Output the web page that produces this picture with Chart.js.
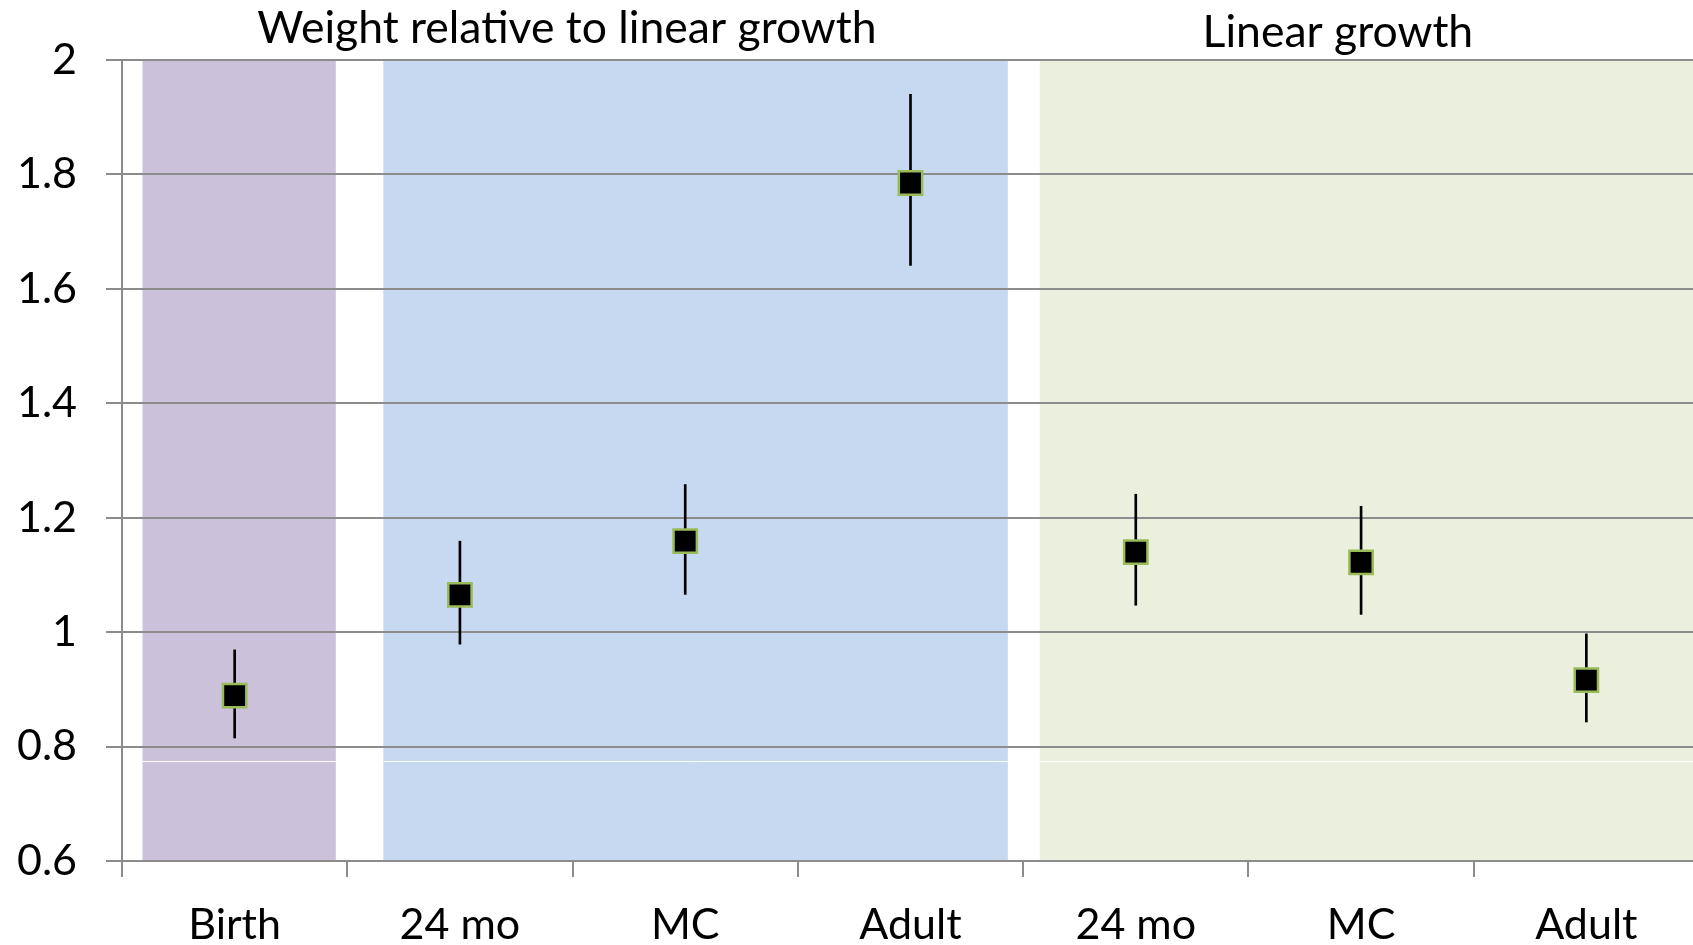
<!DOCTYPE html>
<html>
<head>
<meta charset="utf-8">
<title>Weight relative to linear growth</title>
<script src="https://cdn.jsdelivr.net/npm/chart.js@4.4.1/dist/chart.umd.min.js"></script>
<style>
  html, body { margin: 0; padding: 0; background: #fff; overflow: hidden; }
  #wrap { width: 1693px; height: 945px; overflow: hidden; }
</style>
</head>
<body>
<!-- el lienzo es un poco mas ancho: el area del grafico sigue mas alla del borde derecho -->
<div id="wrap"><canvas id="grafico" width="1699" height="945"></canvas></div>
<script>
// datos
const categories = ['Birth', '24 mo', 'MC', 'Adult', '24 mo', 'MC', 'Adult'];
const estimate = [0.889, 1.065, 1.159, 1.785, 1.140, 1.122, 0.916];
const lower = [0.815, 0.979, 1.066, 1.641, 1.047, 1.031, 0.843];
const upper = [0.969, 1.159, 1.258, 1.940, 1.241, 1.220, 0.997];
const yTicks = [0.6, 0.8, 1, 1.2, 1.4, 1.6, 1.8, 2];
const sectionTitles = ['Weight relative to linear growth', 'Linear growth'];

// zonas de fondo (en unidades de categoria)
const bands = [
  { from: -0.409, to: 0.449, color: '#cbc1da' },
  { from: 0.660, to: 3.432, color: '#c6d9f0' },
  { from: 3.574, to: 6.6, color: '#ebf0de' }
];
const titlePos = [{ x: 1.475, y: 29 }, { x: 4.897, y: 33 }];

const fuente = 'Lato, "Noto Sans", sans-serif';
const tamFuente = 43;
const gris = '#8c8c8c';

const fondo = {
  id: 'fondo',
  beforeDraw(chart) {
    const ctx = chart.ctx;
    const xs = chart.scales.x;
    const ys = chart.scales.y;
    const area = chart.chartArea;
    const step = xs.getPixelForValue(1) - xs.getPixelForValue(0);
    const yLinea = Math.round(ys.getPixelForValue(0.775)) + 0.5;
    ctx.save();
    bands.forEach(b => {
      const x0 = xs.getPixelForValue(0) + b.from * step;
      const x1 = Math.min(xs.getPixelForValue(0) + b.to * step, area.right);
      ctx.fillStyle = b.color;
      ctx.fillRect(x0, area.top, x1 - x0, area.bottom - area.top);
      ctx.strokeStyle = '#ffffff';
      ctx.lineWidth = 1;
      ctx.beginPath();
      ctx.moveTo(x0, yLinea);
      ctx.lineTo(x1, yLinea);
      ctx.stroke();
    });
    ctx.fillStyle = '#000';
    ctx.font = '44.5px ' + fuente;
    ctx.textAlign = 'center';
    ctx.textBaseline = 'middle';
    sectionTitles.forEach((t, i) => {
      const x = xs.getPixelForValue(0) + titlePos[i].x * step;
      ctx.fillText(t, x, titlePos[i].y);
    });
    ctx.restore();
  }
};

const dataErr = {
  type: 'bar',
  label: 'IC',
  data: lower.map((v, i) => [v, upper[i]]),
  backgroundColor: '#000',
  borderWidth: 0,
  barThickness: 2,
  order: 2
};

const dataPts = {
  type: 'line',
  label: 'Estimacion',
  data: estimate,
  showLine: false,
  pointStyle: 'rect',
  pointRadius: 16.5,
  pointBackgroundColor: '#000',
  pointBorderColor: '#9bbb59',
  pointBorderWidth: 2.5,
  order: 1
};

const graph = document.querySelector('#grafico');

const config = {
  data: {
    labels: categories,
    datasets: [dataErr, dataPts]
  },
  options: {
    responsive: false,
    animation: false,
    events: [],
    layout: { autoPadding: false, padding: { top: 60, right: 0, left: 0, bottom: 0 } },
    plugins: {
      legend: { display: false },
      tooltip: { enabled: false }
    },
    scales: {
      x: {
        offset: true,
        grid: {
          offset: true,
          drawOnChartArea: false,
          drawTicks: true,
          tickLength: 16,
          color: gris,
          lineWidth: 2
        },
        border: { display: true, color: gris, width: 2 },
        ticks: {
          color: '#000',
          font: { family: fuente, size: tamFuente },
          padding: 22,
          maxRotation: 0,
          autoSkip: false
        },
        afterFit(scale) {
          scale.height = 84;
          scale.paddingLeft = 0;
          scale.paddingRight = 0;
        }
      },
      y: {
        min: 0.6,
        max: 2,
        afterBuildTicks(scale) {
          scale.ticks = yTicks.map(v => ({ value: v }));
        },
        grid: {
          color: gris,
          lineWidth: 2,
          tickLength: 16
        },
        border: { display: true, color: gris, width: 2 },
        ticks: {
          color: '#000',
          font: { family: fuente, size: tamFuente },
          padding: 29,
          callback: v => String(Number(v.toFixed(1)))
        },
        afterFit(scale) { scale.width = 122; }
      }
    }
  },
  plugins: [fondo]
};

new Chart(graph, config);
</script>
</body>
</html>
